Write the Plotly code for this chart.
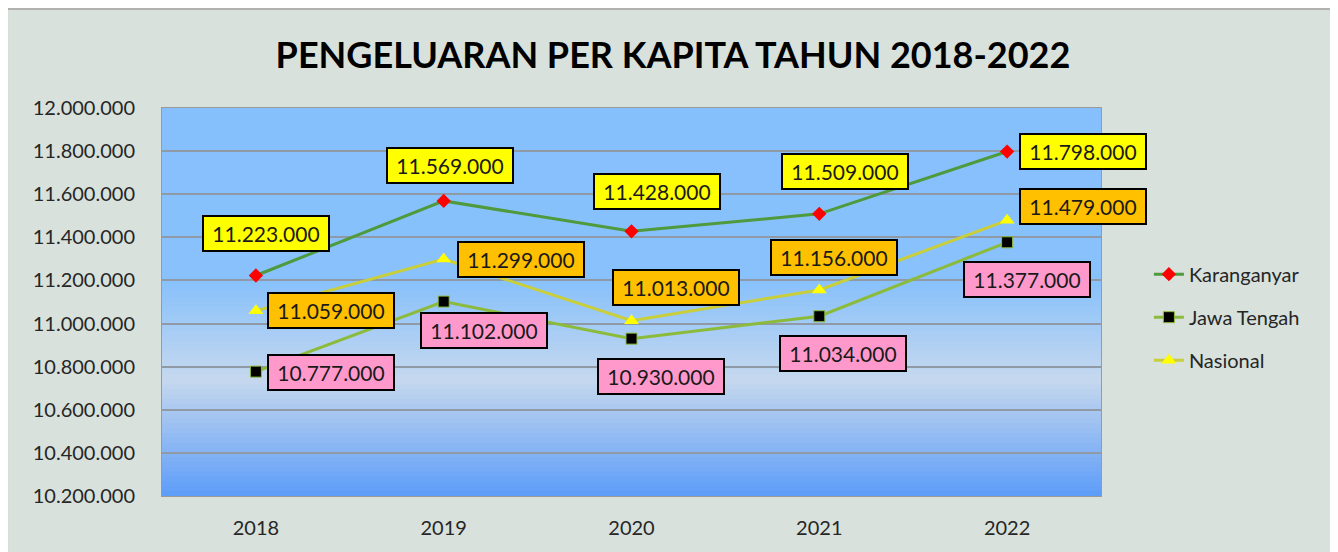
import plotly.graph_objects as go

years = [2018, 2019, 2020, 2021, 2022]
karanganyar = [11223000, 11569000, 11428000, 11509000, 11798000]
jawa_tengah = [10777000, 11102000, 10930000, 11034000, 11377000]
nasional = [11059000, 11299000, 11013000, 11156000, 11479000]
y_ticks = [10200000, 10400000, 10600000, 10800000, 11000000, 11200000,
           11400000, 11600000, 11800000, 12000000]

FONT = "Lato"

def fmt(v):
    return f"{v:,}".replace(",", ".")

fig = go.Figure()

fig.add_trace(go.Scatter(
    x=years, y=karanganyar, name="Karanganyar", mode="lines+markers",
    line=dict(color="#4e9a3c", width=3),
    marker=dict(symbol="diamond", size=11, color="#ff0000", line=dict(width=0)),
    legendgroup="a"))
fig.add_trace(go.Scatter(
    x=years, y=jawa_tengah, name="Jawa Tengah", mode="lines+markers",
    line=dict(color="#8cbb3c", width=3),
    marker=dict(symbol="square", size=11, color="#000000", line=dict(width=1, color="#8cbb3c")),
    legendgroup="b"))
fig.add_trace(go.Scatter(
    x=years, y=nasional, name="Nasional", mode="lines+markers",
    line=dict(color="#c9cf3a", width=3),
    marker=dict(symbol="triangle-up", size=13, color="#ffff00", line=dict(width=0)),
    legendgroup="c"))

# label offsets (pixels) per series
k_off = [(10, 42), (6, 35), (25, 40), (26, 42), (76, 0)]
n_off = [(75, 0), (77, 0), (44, 33), (15, 32), (76, 14)]
j_off = [(75, -1), (40, -29), (29, -38), (24, -37), (20, -37)]

annotations = []
for vals, offs, bg in [(karanganyar, k_off, "#ffff00"),
                       (nasional, n_off, "#ffc000"),
                       (jawa_tengah, j_off, "#ff99cc")]:
    for yr, v, (dx, dy) in zip(years, vals, offs):
        annotations.append(dict(
            x=yr, y=v, xref="x", yref="y", text=fmt(v), showarrow=False,
            xshift=dx, yshift=dy, bgcolor=bg, bordercolor="#000000",
            borderwidth=2, borderpad=2, width=120, height=29,
            font=dict(family=FONT, size=21, color="#1a1a1a")))

shapes = []
# outer chart frame
shapes.append(dict(type="rect", xref="paper", yref="paper",
                   x0=-0.165, x1=1.248, y0=-0.2, y1=1.255,
                   fillcolor="#d8e1dc", line=dict(color="#b0b0b0", width=2),
                   layer="below"))

# gradient stops: (fraction from bottom, rgb)
stops = [(0.0, (92, 156, 248)), (0.30, (198, 216, 238)),
         (0.55, (136, 193, 251)), (1.0, (134, 192, 252))]
N = 80
for i in range(N):
    f0 = i / N
    f1 = (i + 1) / N
    fm = (f0 + f1) / 2
    for (a, ca), (b, cb) in zip(stops[:-1], stops[1:]):
        if a <= fm <= b:
            t = (fm - a) / (b - a)
            c = tuple(round(ca[k] + (cb[k] - ca[k]) * t) for k in range(3))
            break
    shapes.append(dict(type="rect", xref="x domain", yref="y domain",
                       x0=0, x1=1, y0=f0, y1=f1 + 0.002,
                       fillcolor=f"rgb{c}", line=dict(width=0), layer="below"))

fig.update_layout(
    width=1330, height=544,
    margin=dict(l=154, r=237, t=100, b=56),
    paper_bgcolor="#ffffff", plot_bgcolor="rgba(0,0,0,0)",
    separators=",.",
    title=dict(text="<b>PENGELUARAN PER KAPITA TAHUN 2018-2022</b>",
               x=0.5, xref="container", xanchor="center", y=1 - 47 / 544,
               yref="container", yanchor="middle",
               font=dict(family=FONT, size=36, color="#000000")),
    font=dict(family=FONT, size=20, color="#262626"),
    showlegend=True,
    legend=dict(x=1.051, y=0.622, xanchor="left", yanchor="top",
                bgcolor="rgba(0,0,0,0)", font=dict(family=FONT, size=20, color="#262626"),
                tracegroupgap=14),
    annotations=annotations,
    shapes=shapes,
)
fig.update_xaxes(type="linear", range=[2017.5, 2022.5], tickvals=years,
                 tickformat="d", showgrid=False, ticks="", zeroline=False,
                 showline=True, linecolor="#9a9a9a", linewidth=1, mirror=True,
                 ticklabelstandoff=14, tickfont=dict(family=FONT, size=20, color="#262626"))
fig.update_yaxes(range=[10200000, 12000000], tickvals=y_ticks,
                 tickformat=",d", showgrid=True, gridcolor="#8f9aa6", gridwidth=2,
                 showline=True, linecolor="#9a9a9a", linewidth=1, mirror=True,
                 zeroline=False, ticklabelstandoff=22,
                 tickfont=dict(family=FONT, size=20, color="#262626"))

fig.write_html("out.html")
